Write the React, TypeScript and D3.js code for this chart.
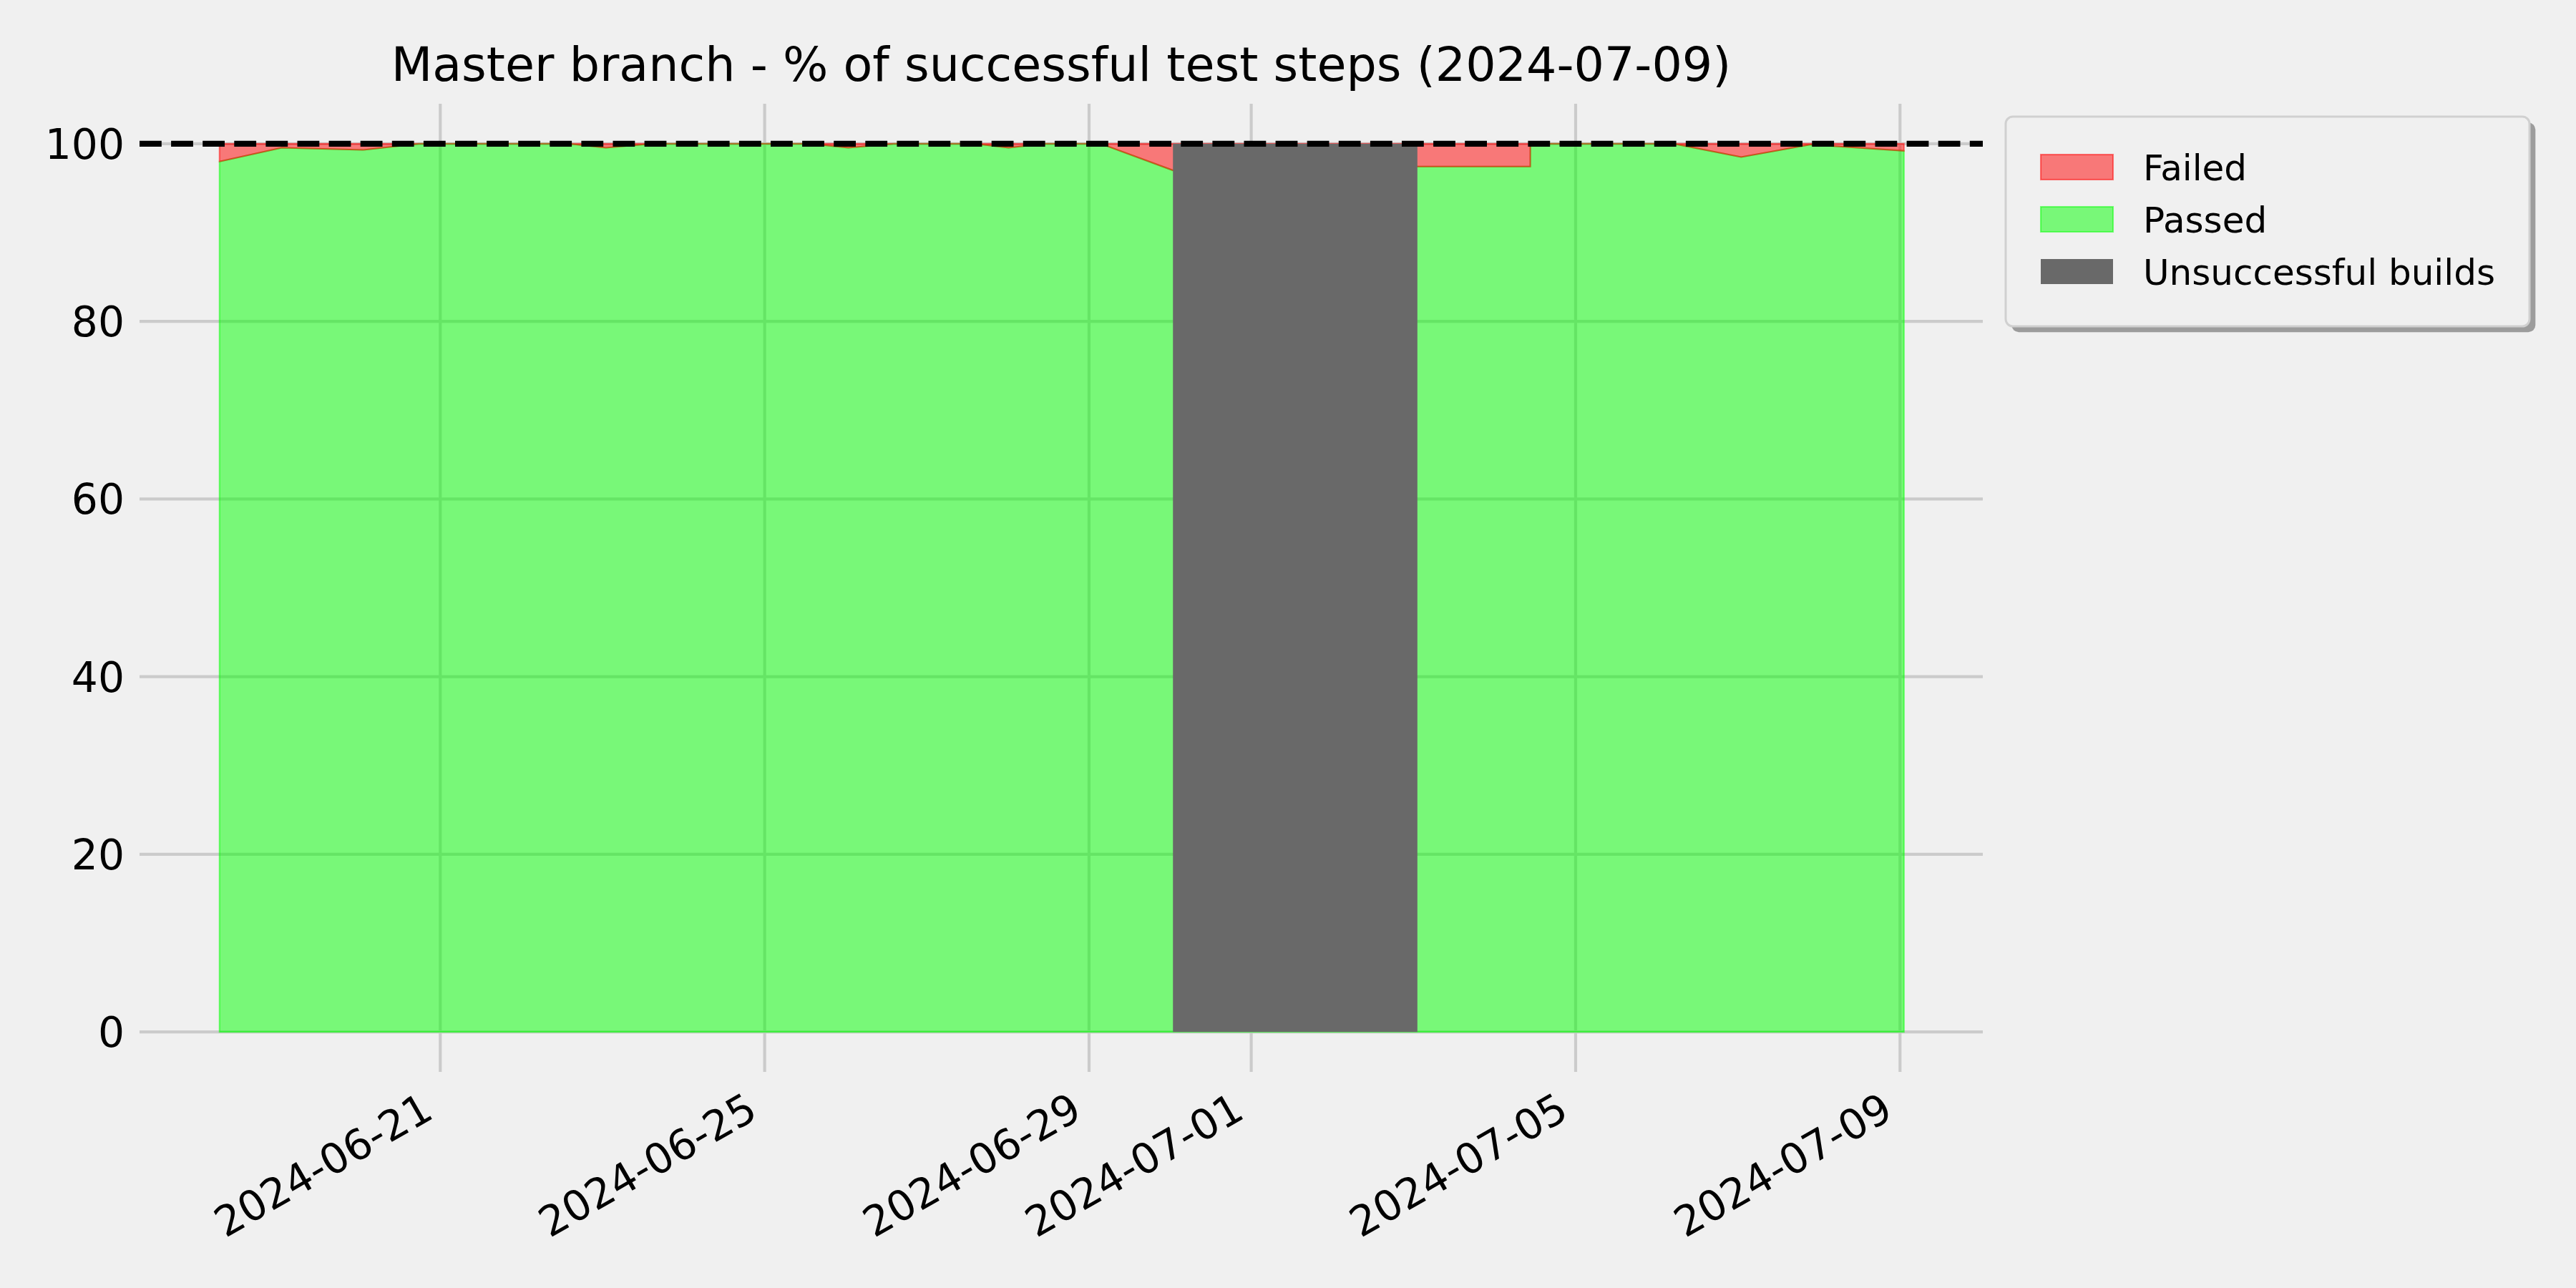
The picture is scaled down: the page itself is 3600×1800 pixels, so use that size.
import React from "react";
import * as d3 from "d3";

// ---- data ----
const buildTimes = [
  "2024-06-18T06:40", "2024-06-19T01:05", "2024-06-20T01:05", "2024-06-20T17:40",
  "2024-06-22T14:10", "2024-06-23T01:00", "2024-06-23T14:30", "2024-06-25T13:40",
  "2024-06-26T00:45", "2024-06-26T14:10", "2024-06-27T14:20", "2024-06-28T00:10",
  "2024-06-28T11:00", "2024-06-29T03:25", "2024-06-30T00:50", "2024-07-03T01:10",
  "2024-07-04T10:35", "2024-07-04T10:36", "2024-07-06T05:00", "2024-07-07T01:00",
  "2024-07-07T21:35", "2024-07-09T01:10",
];
const passedPct = [
  98.0, 99.55, 99.3, 100,
  100, 99.55, 100, 100,
  99.55, 100, 100, 99.55,
  100, 100, 97.0, 97.43,
  97.43, 100, 100, 98.5,
  99.9, 99.2,
];
const unsuccessfulStart = ["2024-06-30T00:50"];
const unsuccessfulEnd = ["2024-07-03T01:10"];
const xTickDates = ["2024-06-21", "2024-06-25", "2024-06-29", "2024-07-01", "2024-07-05", "2024-07-09"];
const yTicks = [0, 20, 40, 60, 80, 100];
const legendLabels = ["Failed", "Passed", "Unsuccessful builds"];
const titleText = "Master branch - % of successful test steps (2024-07-09)";
const xDomain = ["2024-06-17T07:00", "2024-07-10T00:30"];
const yDomain = [-4.5, 104.5];

const parse = (s: string) => new Date(s.length === 10 ? s + "T00:00:00Z" : s + ":00Z");

const W = 3600, H = 1800;
const L = 195, R = 2771, T = 145, B = 1498;
const FONT = "DejaVu Sans";
const BG = "#f0f0f0";

export default function App() {
  const x = d3.scaleUtc().domain(xDomain.map(parse)).range([L, R]);
  const y = d3.scaleLinear().domain(yDomain).range([B, T]);

  const data = buildTimes.map((t, i) => ({ t: parse(t), p: passedPct[i] }));

  const passedArea = d3.area<any>().x((d) => x(d.t)).y0(y(0)).y1((d) => y(d.p));
  const failedArea = d3.area<any>().x((d) => x(d.t)).y0((d) => y(d.p)).y1(y(100));

  const legX = 2803, legY = 163, legW = 732, legH = 293;
  const legendColors = [
    { fill: "red", fo: 0.5, stroke: "red", so: 0.5 },
    { fill: "#00ff00", fo: 0.5, stroke: "#00ff00", so: 0.5 },
    { fill: "#696969", fo: 1, stroke: "none", so: 0 },
  ];

  return (
    <svg
      width={W}
      height={H}
      style={{ position: "absolute", left: 0, top: 0, display: "block" }}
      fontFamily={FONT}
    >
      <rect x={0} y={0} width={W} height={H} fill={BG} />
      {/* grid */}
      {yTicks.map((v) => (
        <line key={"gy" + v} x1={L} x2={R} y1={y(v)} y2={y(v)} stroke="#cbcbcb" strokeWidth={4.17} />
      ))}
      {xTickDates.map((d) => (
        <line key={"gx" + d} x1={x(parse(d))} x2={x(parse(d))} y1={T} y2={B} stroke="#cbcbcb" strokeWidth={4.17} />
      ))}
      {/* areas */}
      <path d={passedArea(data) || ""} fill="#00ff00" fillOpacity={0.5} stroke="#00ff00" strokeOpacity={0.5} strokeWidth={2.08} />
      <path d={failedArea(data) || ""} fill="red" fillOpacity={0.5} stroke="red" strokeOpacity={0.5} strokeWidth={2.08} />
      {/* unsuccessful builds */}
      {unsuccessfulStart.map((s, i) => (
        <rect
          key={"u" + i}
          x={x(parse(s))}
          y={y(100)}
          width={x(parse(unsuccessfulEnd[i])) - x(parse(s))}
          height={y(0) - y(100)}
          fill="#696969"
        />
      ))}
      {/* 100% line */}
      <line x1={L} x2={R} y1={y(100)} y2={y(100)} stroke="#000" strokeWidth={8.33} strokeDasharray="30.8 13.3" />
      {/* y tick labels */}
      {yTicks.map((v) => (
        <text key={"ty" + v} x={174} y={y(v) + 21} textAnchor="end" fontSize={58.3} fill="#000">
          {v}
        </text>
      ))}
      {/* x tick labels */}
      {xTickDates.map((d) => (
        <text
          key={"tx" + d}
          transform={`translate(${x(parse(d)) - 7},1561) rotate(-30)`}
          textAnchor="end"
          fontSize={58.3}
          fill="#000"
        >
          {d}
        </text>
      ))}
      {/* title */}
      <text x={(L + R) / 2} y={113} textAnchor="middle" fontSize={66.7} fill="#000">
        {titleText}
      </text>
      {/* legend */}
      <rect x={legX + 8.3} y={legY + 8.3} width={legW} height={legH} rx={10} fill="#9c9c9c" />
      <rect x={legX} y={legY} width={legW} height={legH} rx={10} fill={BG} stroke="#d0d0d0" strokeWidth={3} />
      {legendLabels.map((lab, i) => {
        const c = legendColors[i];
        const ry = 216 + i * 73;
        return (
          <g key={"leg" + i}>
            <rect x={2852} y={ry} width={101} height={35} fill={BG} />
            <rect
              x={2852}
              y={ry}
              width={101}
              height={35}
              fill={c.fill}
              fillOpacity={c.fo}
              stroke={c.stroke}
              strokeOpacity={c.so}
              strokeWidth={2.08}
            />
            <text x={2995} y={ry + 35.5} fontSize={50} fill="#000">
              {lab}
            </text>
          </g>
        );
      })}
    </svg>
  );
}
